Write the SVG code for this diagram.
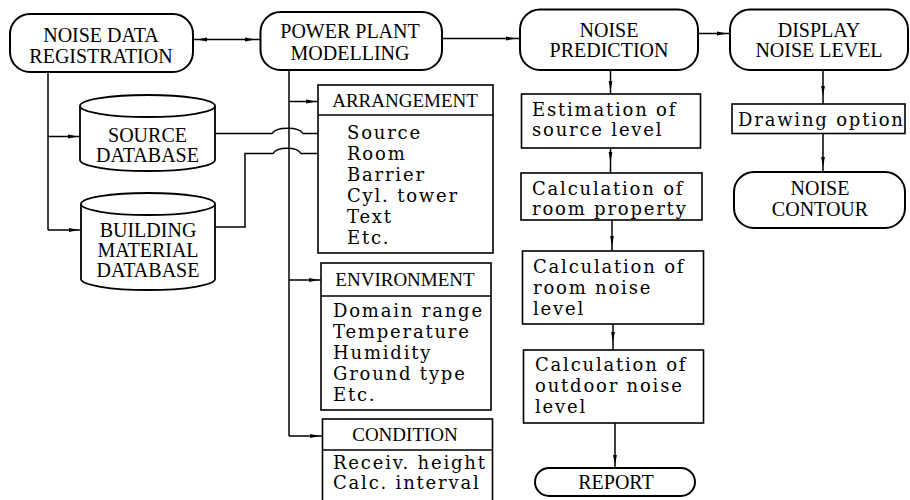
<svg xmlns="http://www.w3.org/2000/svg" width="910" height="500" viewBox="0 0 910 500">
<defs>
<marker id="ah" viewBox="0 0 10 5" refX="10" refY="2.5" markerWidth="10" markerHeight="5" markerUnits="userSpaceOnUse" orient="auto">
<path d="M0,0.6 L10,2.5 L0,4.4 Z" fill="#000"/>
</marker>
<style>
.rnd{fill:#fff;stroke:#000;stroke-width:2}
.box{fill:#fff;stroke:#000;stroke-width:1.6}
.cyl{fill:#fff;stroke:#000;stroke-width:1.8}
.hd{font-family:"Liberation Serif","Times New Roman",serif;font-size:20px;text-anchor:middle;fill:#000}
.bh{font-family:"Liberation Serif","Times New Roman",serif;font-size:19px;text-anchor:middle;fill:#000}
.it{font-family:"DejaVu Serif",serif;font-size:18px;letter-spacing:1.8px;fill:#000}
.cn{fill:none;stroke:#000;stroke-width:1.5}
.cm{fill:none;stroke:#000;stroke-width:1.5;marker-mid:url(#ah)}
.ce{fill:none;stroke:#000;stroke-width:1.5;marker-end:url(#ah)}
</style>
</defs>

<g id="connectors">
<path class="cm" d="M226,39.5 L197,39.5 L193,39.5"/>
<path class="cm" d="M226,39.5 L255,39.5 L260,39.5"/>
<path class="cm" d="M442,38.5 L516,38.5 L520,38.5"/>
<path class="cm" d="M698,33.5 L727,33.5 L730,33.5"/>
<path class="cm" d="M610.5,70 L610.5,91 L610.5,94"/>
<path class="cm" d="M610.5,148 L610.5,162 L610.5,173"/>
<path class="cm" d="M612,220 L612,246 L612,251"/>
<path class="cm" d="M613,324 L613,342 L613,350"/>
<path class="cm" d="M615,423 L615,465 L615,468"/>
<path class="cm" d="M823,70 L823,96 L823,104"/>
<path class="cm" d="M823,133.5 L823,167 L823,172"/>
<path class="cn" d="M48,72 L48,230"/>
<path class="cm" d="M48,136.5 L78,136.5 L80,136.5"/>
<path class="cm" d="M48,230 L79,230 L81,230"/>
<path class="cn" d="M289,70 L289,436"/>
<path class="cm" d="M289,101.5 L316,101.5 L318,101.5"/>
<path class="cm" d="M289,280 L319,280 L321,280"/>
<path class="cm" d="M289,436 L320,436 L322.5,436"/>
<path class="ce" d="M215,133.5 L272,133.5 C276,126.5 299,126.5 303,133.5 L342,133.5"/>
<path class="ce" d="M215,227 L245,227 L245,153.5 L273,153.5 C277,146.5 297,146.5 301,153.5 L342,153.5"/>
</g>

<g id="noise-data-registration">
<rect class="rnd" x="10" y="14" width="183" height="58" rx="20"/>
<text class="hd" x="101" y="42">NOISE DATA</text>
<text class="hd" x="101" y="63">REGISTRATION</text>
</g>

<g id="power-plant-modelling">
<rect class="rnd" x="260.5" y="12" width="181.5" height="58" rx="20"/>
<text class="hd" x="350" y="38">POWER PLANT</text>
<text class="hd" x="350" y="60">MODELLING</text>
</g>

<g id="noise-prediction">
<rect class="rnd" x="520" y="9.5" width="178" height="60.5" rx="20"/>
<text class="hd" x="609" y="37">NOISE</text>
<text class="hd" x="609" y="57">PREDICTION</text>
</g>

<g id="display-noise-level">
<rect class="rnd" x="730" y="9.5" width="178" height="60.5" rx="20"/>
<text class="hd" x="819" y="37">DISPLAY</text>
<text class="hd" x="819" y="57">NOISE LEVEL</text>
</g>

<g id="source-database">
<path class="cyl" d="M80,106 L80,160 A67.5,11 0 0 0 215,160 L215,106 A67.5,11 0 0 0 80,106 Z"/>
<path class="cyl" d="M80,106 A67.5,11 0 0 0 215,106" fill="none"/>
<text class="hd" x="147.5" y="142">SOURCE</text>
<text class="hd" x="147.5" y="162">DATABASE</text>
</g>

<g id="building-material-database">
<path class="cyl" d="M81,204 L81,279 A67,11 0 0 0 215,279 L215,204 A67,11 0 0 0 81,204 Z"/>
<path class="cyl" d="M81,204 A67,11 0 0 0 215,204" fill="none"/>
<text class="hd" x="148" y="237">BUILDING</text>
<text class="hd" x="148" y="257">MATERIAL</text>
<text class="hd" x="148" y="277">DATABASE</text>
</g>

<g id="arrangement">
<rect class="box" x="318" y="85" width="175" height="168"/>
<line class="box" x1="318" y1="115" x2="493" y2="115"/>
<text class="bh" x="405" y="107">ARRANGEMENT</text>
<text class="it" x="347" y="138.5">Source</text>
<text class="it" x="347" y="159.5">Room</text>
<text class="it" x="347" y="180.5">Barrier</text>
<text class="it" x="347" y="201.5">Cyl. tower</text>
<text class="it" x="347" y="222.5">Text</text>
<text class="it" x="347" y="243.5">Etc.</text>
</g>

<g id="environment">
<rect class="box" x="321" y="263" width="170" height="147"/>
<line class="box" x1="321" y1="296" x2="491" y2="296"/>
<text class="bh" x="405" y="286">ENVIRONMENT</text>
<text class="it" x="333" y="316.5">Domain range</text>
<text class="it" x="333" y="337.5">Temperature</text>
<text class="it" x="333" y="358.5">Humidity</text>
<text class="it" x="333" y="379.5">Ground type</text>
<text class="it" x="333" y="400.5">Etc.</text>
</g>

<g id="condition">
<rect class="box" x="322.5" y="419" width="170" height="95"/>
<line class="box" x1="322.5" y1="450" x2="492.5" y2="450"/>
<text class="bh" x="405" y="441">CONDITION</text>
<text class="it" x="333" y="469">Receiv. height</text>
<text class="it" x="333" y="489">Calc. interval</text>
</g>

<g id="estimation">
<rect class="box" x="521.5" y="94" width="179" height="54"/>
<text class="it" x="532" y="115.5">Estimation of</text>
<text class="it" x="532" y="136">source level</text>
</g>

<g id="room-property">
<rect class="box" x="521" y="173" width="181" height="47"/>
<text class="it" x="532" y="194.5">Calculation of</text>
<text class="it" x="532" y="214.5">room property</text>
</g>

<g id="room-noise-level">
<rect class="box" x="522.5" y="251" width="181" height="73"/>
<text class="it" x="533" y="273">Calculation of</text>
<text class="it" x="533" y="294">room noise</text>
<text class="it" x="533" y="315">level</text>
</g>

<g id="outdoor-noise-level">
<rect class="box" x="523.5" y="350" width="180" height="73"/>
<text class="it" x="535" y="371">Calculation of</text>
<text class="it" x="535" y="392">outdoor noise</text>
<text class="it" x="535" y="413">level</text>
</g>

<g id="report">
<rect class="rnd" x="535" y="468" width="160" height="28" rx="14"/>
<text class="hd" x="616" y="489">REPORT</text>
</g>

<g id="drawing-option">
<rect class="box" x="732" y="104" width="173" height="29.5"/>
<text class="it" x="738" y="126">Drawing option</text>
</g>

<g id="noise-contour">
<rect class="rnd" x="734" y="172" width="171" height="56" rx="20"/>
<text class="hd" x="820" y="195">NOISE</text>
<text class="hd" x="820" y="216">CONTOUR</text>
</g>
</svg>
